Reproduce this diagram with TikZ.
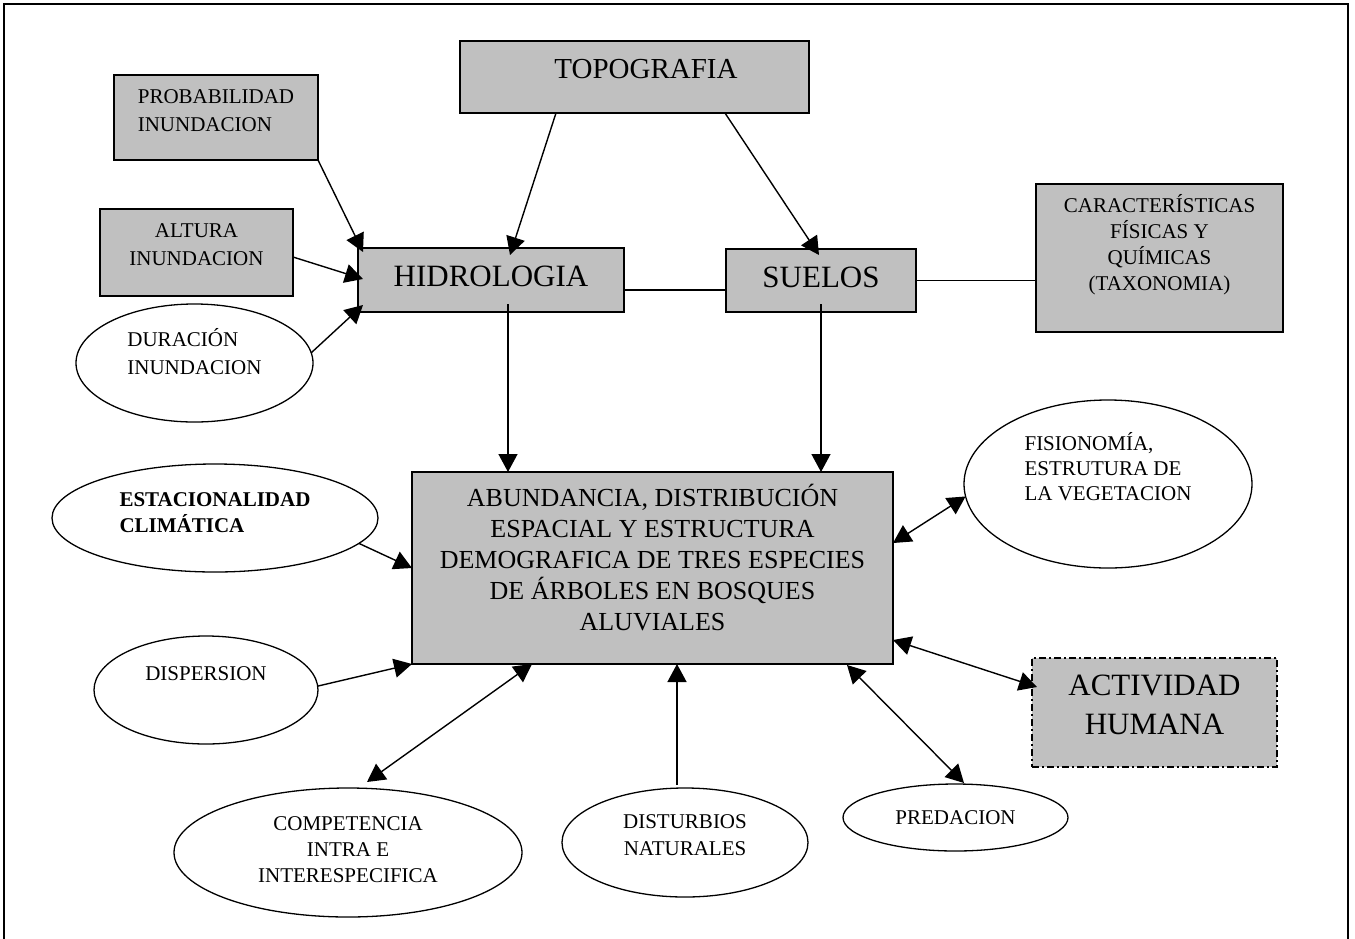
\documentclass[tikz,border=0pt]{standalone}
\usepackage{fontspec}
\setmainfont{Liberation Serif}
\usetikzlibrary{shapes.geometric,arrows.meta,calc}
\definecolor{boxgray}{RGB}{192,192,192}
\newcommand\lift[3]{\raisebox{#1}[\height][\depth]{\begin{tabular}{@{}#2@{}}#3\end{tabular}}}
\tikzset{
 base/.style={inner sep=0pt, outer sep=0pt, line width=1.3pt, draw=black, text=black},
 graybox/.style={base, rectangle, fill=boxgray},
 oval/.style={base, ellipse, fill=white},
 small/.style={font=\fontsize{21}{28}\selectfont},
 link/.style={line width=1.4pt},
 arr/.style={link, -{Triangle[length=18pt,width=19pt]}},
 darr/.style={link, {Triangle[length=18pt,width=19pt]}-{Triangle[length=18pt,width=19pt]}},
}
\begin{document}
\begin{tikzpicture}[x=1pt,y=-1pt]
\useasboundingbox (0,0) rectangle (1355,938);
\draw[line width=1.6pt] (4,945) -- (4,4) -- (1348,4) -- (1348,945);

\node[graybox, font=\fontsize{29}{37}\selectfont, minimum width=349pt, minimum height=72pt] (topo) at (634.5,77) {\lift{6pt}{c}{\hspace*{23pt}TOPOGRAFIA}};
\node[graybox, font=\fontsize{31}{39}\selectfont, minimum width=266pt, minimum height=64pt] (hid) at (491,280) {\lift{1pt}{c}{HIDROLOGIA}};
\node[graybox, font=\fontsize{31}{39}\selectfont, minimum width=190pt, minimum height=63pt] (sue) at (821,280.5) {\lift{1pt}{c}{SUELOS}};
\node[graybox, small, minimum width=204pt, minimum height=85pt] (prob) at (216,117.5) {\lift{6pt}{l}{PROBABILIDAD\\INUNDACION}};
\node[graybox, small, minimum width=193pt, minimum height=87pt] (alt) at (196.5,252.5) {\lift{7pt}{c}{ALTURA\\INUNDACION}};
\node[oval, small, minimum width=237pt, minimum height=118pt] (dur) at (194.5,363) {\lift{8pt}{l}{DURACIÓN\\INUNDACION}};
\node[graybox, font=\fontsize{21}{26}\selectfont, minimum width=247pt, minimum height=148pt] (car) at (1159.5,258) {\lift{12pt}{c}{CARACTERÍSTICAS\\FÍSICAS Y\\QUÍMICAS\\(TAXONOMIA)}};
\node[oval, font=\fontsize{21}{25}\selectfont, minimum width=288pt, minimum height=168pt] (fis) at (1108,484) {\lift{14pt}{l}{FISIONOMÍA,\\ESTRUTURA DE\\LA VEGETACION}};
\node[oval, font=\fontsize{21}{26}\selectfont\bfseries, minimum width=326pt, minimum height=108pt] (est) at (215,518) {\lift{4pt}{l}{ESTACIONALIDAD\\CLIMÁTICA}};
\node[graybox, font=\fontsize{26}{31}\selectfont, minimum width=481pt, minimum height=192pt] (main) at (652.5,568) {\lift{6pt}{c}{ABUNDANCIA, DISTRIBUCIÓN\\ESPACIAL Y ESTRUCTURA\\DEMOGRAFICA DE TRES ESPECIES\\DE ÁRBOLES EN BOSQUES\\ALUVIALES}};
\node[oval, small, minimum width=224pt, minimum height=108pt] (dis) at (206,690) {\lift{15pt}{c}{DISPERSION}};
\node[oval, font=\fontsize{21}{26}\selectfont, minimum width=348pt, minimum height=129pt] (com) at (348,852.5) {\lift{1pt}{c}{COMPETENCIA\\INTRA E\\INTERESPECIFICA}};
\node[oval, font=\fontsize{21}{27}\selectfont, minimum width=246pt, minimum height=109pt] (dist) at (685,842.5) {\lift{6pt}{c}{DISTURBIOS\\NATURALES}};
\node[oval, small, minimum width=225pt, minimum height=67pt] (pre) at (955.5,817.5) {PREDACION};
\node[graybox, font=\fontsize{31}{39}\selectfont, dash pattern=on 7pt off 3pt on 2pt off 3pt, minimum width=245pt, minimum height=109pt] (act) at (1154.5,712.5) {\lift{5pt}{c}{ACTIVIDAD\\HUMANA}};

\draw[arr] ($(topo.south)+(-78.5,0)$) -- ($(hid.north)+(19,7)$);
\draw[arr] ($(topo.south)+(90.5,0)$) -- ($(sue.north)+(-2,6)$);
\draw[arr] (prob.south east) -- ($(hid.north west)+(5,4)$);
\draw[arr] ($(alt.east)+(0,4.5)$) -- ($(hid.west)+(5,-1)$);
\draw[arr] (dur.5) -- ($(hid.south west)+(5,-7)$);
\coordinate (hl) at ($(hid.east)+(0,10)$);
\draw[link] (hl) -- (hl -| sue.west);
\draw[link] (sue.east) -- (sue.east -| car.west);
\coordinate (hb) at ($(hid.south)+(17,-8)$);
\draw[arr] (hb) -- (hb |- main.north);
\coordinate (sb) at ($(sue.south)+(0,-8)$);
\draw[arr] (sb) -- (sb |- main.north);
\draw[arr] (est.-10) -- (main.west);
\draw[arr] (dis.2) -- (main.south west);
\draw[darr] ($(com.north)+(19,-6)$) -- ($(main.south)+(-120.5,0)$);
\coordinate (db) at ($(dist.north)+(-8,-3)$);
\draw[arr] (db) -- (db |- main.south);
\draw[darr] ($(main.south east)+(-46,1)$) -- ($(pre.north)+(8.5,-1)$);
\draw[darr] ($(main.south east)+(0,-24)$) -- ($(act.north west)+(5,29)$);
\draw[darr] ($(main.north east)+(0,71)$) -- (fis.185);
\end{tikzpicture}
\end{document}
